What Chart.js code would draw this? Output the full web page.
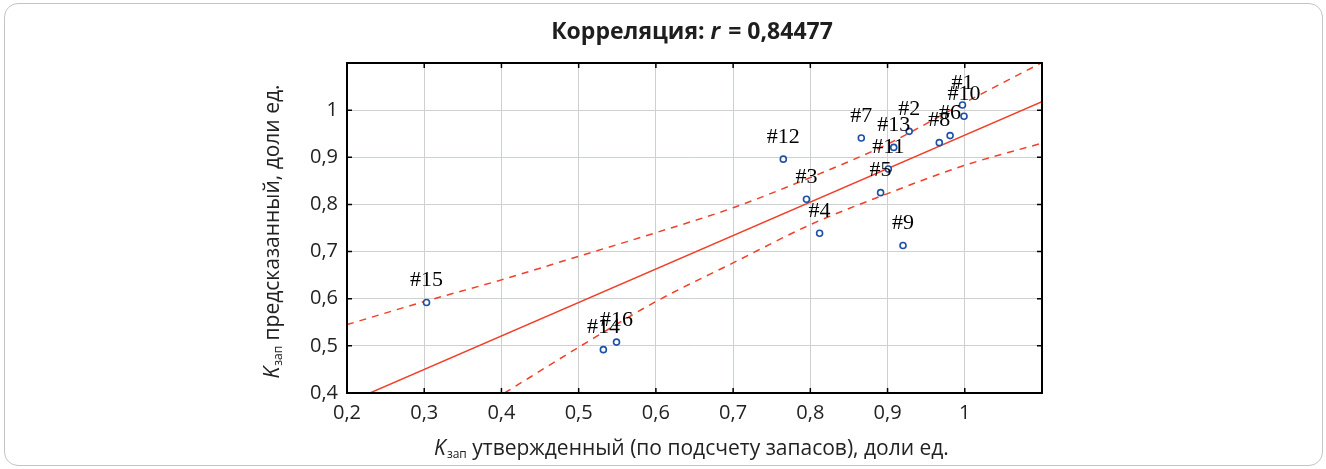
<!DOCTYPE html>
<html>
<head>
<meta charset="utf-8">
<script src="https://cdn.jsdelivr.net/npm/chart.js@4.4.1/dist/chart.umd.min.js"></script>
<style>
  body { margin: 0; background: #fff; }
  .card {
    position: absolute; left: 4px; top: 3px; width: 1319px; height: 463px;
    border: 1.5px solid #c4c4c4; border-radius: 14px; box-sizing: border-box;
  }
  #wrap { position: absolute; left: 0; top: 0; width: 1326px; height: 469px; }
</style>
</head>
<body>
<div class="card"></div>
<div id="wrap"><canvas id="corrChart" width="1326" height="469"></canvas></div>
<script>
// K зап: approved (x) vs predicted (y)
const wellLabels = ["#1", "#2", "#3", "#4", "#5", "#6", "#7", "#8", "#9", "#10", "#11", "#12", "#13", "#14", "#15", "#16"];
const approvedK = [0.997, 0.928, 0.795, 0.812, 0.891, 0.981, 0.866, 0.967, 0.920, 0.999, 0.901, 0.765, 0.908, 0.532, 0.303, 0.549];
const predictedK = [1.011, 0.955, 0.811, 0.739, 0.825, 0.946, 0.941, 0.931, 0.713, 0.987, 0.875, 0.896, 0.921, 0.492, 0.592, 0.508];

// regression line and 95% band
const fitX = [0.2, 1.1];
const fitY = [0.379, 1.018];
const upperX = [0.2, 0.3, 0.4, 0.5, 0.6, 0.7, 0.8, 0.9, 1.0, 1.1];
const upperY = [0.545, 0.594, 0.640, 0.690, 0.740, 0.793, 0.857, 0.928, 1.016, 1.101];
const lowerX = [0.404, 0.5, 0.6, 0.7, 0.8, 0.9, 1.0, 1.1];
const lowerY = [0.400, 0.497, 0.594, 0.676, 0.757, 0.823, 0.883, 0.930];

const titleText = ["Корреляция: ", "r", " = 0,84477"];
const xTitle = ["K", "зап", " утвержденный (по подсчету запасов), доли ед."];
const yTitle = ["K", "зап", " предсказанный, доли ед."];

const red = "#f0402a";
const toPoints = (xs, ys) => xs.map((x, i) => ({ x: x, y: ys[i] }));

const fmtTick = (v) => {
  if (v > 1.05) return "";
  if (Math.abs(v - 1) < 1e-6) return "1";
  return v.toFixed(1).replace(".", ",");
};

const tickFont = { family: "'Open Sans'", size: 20 };

// titles with italic / subscript parts
const drawMixed = (ctx, parts, cx, cy, size) => {
  const sub = Math.round(size * 0.55);
  ctx.font = `italic ${size}px 'Open Sans'`;
  const w0 = ctx.measureText(parts[0]).width;
  ctx.font = `${sub}px 'Open Sans'`;
  const w1 = ctx.measureText(parts[1]).width;
  ctx.font = `${size}px 'Open Sans'`;
  const w2 = ctx.measureText(parts[2]).width;
  let x = cx - (w0 + w1 + w2) / 2;
  ctx.textAlign = "left";
  ctx.textBaseline = "alphabetic";
  ctx.font = `italic ${size}px 'Open Sans'`;
  ctx.fillText(parts[0], x, cy);
  x += w0 + 1;
  ctx.font = `${sub}px 'Open Sans'`;
  ctx.fillText(parts[1], x, cy + 3);
  x += w1;
  ctx.font = `${size}px 'Open Sans'`;
  ctx.fillText(parts[2], x, cy);
};

const framePlugin = {
  id: "frame",
  afterDatasetsDraw(chart) {
    const { ctx, chartArea: a, scales } = chart;
    ctx.save();
    // point labels
    const meta = chart.getDatasetMeta(0);
    ctx.fillStyle = "#000";
    ctx.font = "22px 'Liberation Serif'";
    ctx.textAlign = "center";
    ctx.textBaseline = "middle";
    meta.data.forEach((pt, i) => {
      ctx.fillText(wellLabels[i], pt.x, pt.y - 22);
    });
    // frame + inward ticks
    ctx.strokeStyle = "#000";
    ctx.lineWidth = 2;
    ctx.strokeRect(a.left, a.top, a.right - a.left, a.bottom - a.top);
    ctx.lineWidth = 1.5;
    ctx.beginPath();
    scales.x.ticks.forEach((t) => {
      const px = scales.x.getPixelForValue(t.value);
      ctx.moveTo(px, a.bottom); ctx.lineTo(px, a.bottom - 5);
      ctx.moveTo(px, a.top); ctx.lineTo(px, a.top + 5);
    });
    scales.y.ticks.forEach((t) => {
      const py = scales.y.getPixelForValue(t.value);
      ctx.moveTo(a.left, py); ctx.lineTo(a.left + 5, py);
      ctx.moveTo(a.right, py); ctx.lineTo(a.right - 5, py);
    });
    ctx.stroke();
    ctx.restore();
  },
  afterDraw(chart) {
    const { ctx } = chart;
    ctx.save();
    ctx.fillStyle = "#1e1e1e";
    // chart title
    const tf = "bold 23px 'Open Sans'";
    const tfi = "italic bold 23px 'Open Sans'";
    ctx.font = tf;
    const t0 = ctx.measureText(titleText[0]).width;
    ctx.font = tfi;
    const t1 = ctx.measureText(titleText[1]).width;
    ctx.font = tf;
    const t2 = ctx.measureText(titleText[2]).width;
    let x = 691 - (t0 + t1 + t2) / 2;
    ctx.textBaseline = "alphabetic";
    ctx.textAlign = "left";
    ctx.fillText(titleText[0], x, 39);
    ctx.font = tfi;
    ctx.fillText(titleText[1], x + t0, 39);
    ctx.font = tf;
    ctx.fillText(titleText[2], x + t0 + t1 + 2, 39);
    // axis titles
    ctx.fillStyle = "#222";
    drawMixed(ctx, xTitle, 691, 455, 21);
    ctx.translate(279, 232);
    ctx.rotate(-Math.PI / 2);
    drawMixed(ctx, yTitle, 0, 0, 21);
    ctx.restore();
  },
};

const data = {
  datasets: [
    {
      label: "wells",
      data: toPoints(approvedK, predictedK),
      showLine: false,
      pointRadius: 3,
      pointBorderWidth: 1.6,
      pointBorderColor: "#1c4fa6",
      pointBackgroundColor: "#fff",
      order: 0,
    },
    {
      label: "fit",
      data: toPoints(fitX, fitY),
      showLine: true,
      borderColor: red,
      borderWidth: 1.5,
      pointRadius: 0,
      order: 1,
    },
    {
      label: "upper",
      data: toPoints(upperX, upperY),
      showLine: true,
      borderColor: red,
      borderWidth: 1.5,
      borderDash: [7, 6],
      cubicInterpolationMode: "monotone",
      pointRadius: 0,
      order: 1,
    },
    {
      label: "lower",
      data: toPoints(lowerX, lowerY),
      showLine: true,
      borderColor: red,
      borderWidth: 1.5,
      borderDash: [7, 6],
      cubicInterpolationMode: "monotone",
      pointRadius: 0,
      order: 1,
    },
  ],
};

const config = {
  type: "scatter",
  data: data,
  options: {
    responsive: false,
    animation: false,
    layout: { padding: { left: 0, top: 63, right: 284, bottom: 0 } },
    plugins: { legend: { display: false }, tooltip: { enabled: false } },
    scales: {
      x: {
        type: "linear",
        min: 0.2,
        max: 1.1,
        afterFit: (s) => { s.height = 76; },
        grid: { color: "#cdd1d4", lineWidth: 1, drawTicks: false },
        border: { display: false },
        ticks: { stepSize: 0.1, padding: 8, color: "#222", font: tickFont, callback: fmtTick, maxRotation: 0 },
      },
      y: {
        min: 0.4,
        max: 1.1,
        afterFit: (s) => { s.width = 347; },
        grid: { color: "#cdd1d4", lineWidth: 1, drawTicks: false },
        border: { display: false },
        ticks: { stepSize: 0.1, padding: 9, color: "#222", font: tickFont, callback: fmtTick },
      },
    },
  },
  plugins: [framePlugin],
};

const corrChart = new Chart(document.querySelector("#corrChart"), config);
</script>
</body>
</html>
